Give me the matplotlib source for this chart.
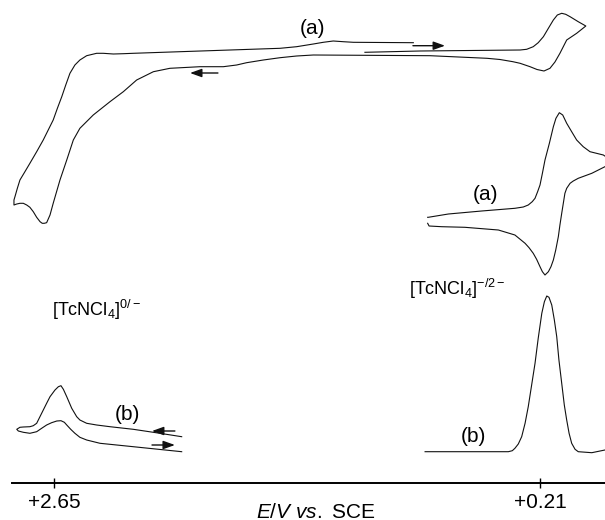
import matplotlib
matplotlib.use("Agg")
import matplotlib.pyplot as plt

plt.rcParams['font.family'] = ['Liberation Sans', 'DejaVu Sans']
plt.rcParams['mathtext.fontset'] = 'custom'
plt.rcParams['mathtext.rm'] = 'Liberation Sans'
plt.rcParams['mathtext.it'] = 'Liberation Sans:italic'
plt.rcParams['mathtext.default'] = 'regular'

# ---------------- data (E in V vs. SCE, current in arbitrary offset units) ----
# Cyclic voltammogram (a), wide scan (top trace)
cv_top_E = [1.089, 0.812, 0.561, 0.310, 0.277, 0.244, 0.219, 0.193, 0.168, 0.143,
            0.123, 0.101, 0.081, 0.059, 0.018, -0.020,
            0.026, 0.076, 0.110, 0.135, 0.160, 0.190, 0.225, 0.260, 0.310, 0.346,
            0.411, 0.476, 0.762, 1.348, 1.432, 1.515, 1.599, 1.683, 1.733, 1.800,
            1.917, 2.068, 2.151, 2.235, 2.302, 2.369, 2.453, 2.520, 2.553, 2.586,
            2.620, 2.654, 2.670, 2.687, 2.699, 2.709, 2.720, 2.737, 2.754, 2.771,
            2.787, 2.804, 2.821, 2.837, 2.851,
            2.851, 2.846, 2.834, 2.821, 2.796, 2.771, 2.737, 2.704, 2.679, 2.654,
            2.633, 2.611, 2.591, 2.570, 2.545, 2.520, 2.486, 2.436, 2.403, 2.352,
            2.302, 2.252, 2.017, 1.766, 1.515, 1.432, 1.348, 1.298, 1.248, 1.198,
            1.147, 0.846]
cv_top_i = [430.7, 432.0, 432.5, 433.0, 433.7, 436.3, 440.3, 446.3, 454.7, 463.0,
            468.0, 469.7, 468.7, 466.3, 461.3, 457.0,
            449.7, 443.0, 429.7, 421.0, 414.7, 412.0, 413.5, 416.3, 419.7, 421.3,
            423.5, 424.7, 427.3, 428.0, 427.0, 425.3, 423.0, 420.3, 418.0, 416.3,
            416.3, 414.7, 411.3, 403.0, 391.3, 381.3, 368.0, 354.7, 343.0, 323.0,
            303.0, 279.7, 268.0, 260.3, 259.7, 259.7, 261.3, 265.7, 271.3, 275.7,
            278.0, 279.7, 279.7, 279.0, 278.0,
            283.0, 286.3, 294.7, 303.0, 311.3, 319.7, 331.3, 343.0, 353.0, 363.0,
            374.7, 386.3, 398.0, 409.7, 418.0, 423.0, 427.3, 429.7, 429.7, 429.0,
            429.3, 429.7, 431.3, 433.0, 434.7, 436.3, 439.0, 440.7, 442.0, 441.3,
            440.7, 440.3]

# Cyclic voltammogram (a), [TcNCl4]-/2- couple (right)
cv_right_E = [0.774, 0.771, 0.670, 0.503, 0.336, 0.294, 0.269, 0.249, 0.235, 0.222,
              0.210, 0.198, 0.185, 0.163, 0.143, 0.130, 0.113, 0.096, 0.076, 0.051,
              0.026, -0.007, -0.041, -0.108, -0.152,
              -0.116, -0.050, 0.018, 0.043, 0.059, 0.076, 0.085, 0.093, 0.101, 0.110,
              0.118, 0.131, 0.143, 0.155, 0.168, 0.185, 0.198, 0.210, 0.227, 0.244,
              0.265, 0.285, 0.336, 0.419, 0.587, 0.704, 0.767, 0.774]
cv_right_i = [265.7, 265.7, 269.0, 272.0, 274.7, 276.0, 278.0, 281.3, 284.7, 291.3,
              298.0, 309.7, 323.0, 339.7, 356.3, 364.7, 370.3, 368.0, 359.7, 351.3,
              343.0, 336.3, 331.3, 328.0, 322.0,
              316.3, 309.7, 304.7, 302.0, 299.7, 294.7, 289.7, 279.7, 269.7, 258.0,
              246.3, 233.0, 223.0, 216.3, 211.3, 208.0, 211.3, 216.3, 223.7, 229.7,
              235.3, 239.7, 248.0, 253.0, 255.7, 256.3, 257.0, 259.7]

# Differential pulse voltammogram (b), [TcNCl4]-/2- (right)
dpv_right_E = [0.787, 0.369, 0.349, 0.336, 0.319, 0.302, 0.285, 0.269, 0.252, 0.235,
               0.219, 0.201, 0.188, 0.176, 0.165, 0.151, 0.138, 0.126, 0.115, 0.101,
               0.088, 0.076, 0.064, 0.051, 0.034, 0.018, -0.050, -0.116]
dpv_right_i = [31.3, 31.3, 32.3, 34.7, 39.0, 46.3, 59.7, 76.3, 98.0, 119.7,
               144.7, 169.7, 181.3, 187.0, 185.7, 178.0, 163.0, 146.3, 123.0, 99.7,
               78.0, 63.0, 49.7, 39.7, 33.7, 31.3, 30.3, 33.0]

# Differential pulse voltammogram (b), [TcNCl4]0/- (left)
dpv_left_E = [2.009, 2.118, 2.252, 2.369, 2.436, 2.486, 2.520, 2.536, 2.561, 2.586,
              2.603, 2.615, 2.628, 2.645, 2.670, 2.687, 2.712, 2.737, 2.754, 2.771,
              2.804, 2.821, 2.837, 2.829, 2.804, 2.771, 2.737, 2.712, 2.687, 2.662,
              2.636, 2.615, 2.598, 2.586, 2.566, 2.545, 2.520, 2.486, 2.419, 2.252,
              2.009]
dpv_left_i = [46.3, 49.7, 53.7, 56.3, 58.0, 59.7, 63.0, 66.3, 74.7, 86.3,
              93.7, 97.3, 96.3, 93.0, 86.3, 79.7, 69.7, 59.7, 57.3, 56.3,
              56.0, 55.7, 53.7, 52.0, 50.7, 49.7, 51.3, 54.7, 58.0, 60.3,
              62.0, 62.3, 60.7, 58.0, 53.7, 49.7, 45.7, 43.0, 39.7, 36.3,
              31.3]

tick_values = [2.65, 0.21]
tick_labels = ['+2.65', '+0.21']

# ---------------- figure ----------------
fig = plt.figure(figsize=(6.05, 5.2), dpi=100)
ax = fig.add_axes([0, 0, 1, 1])
ax.set_xlim(2.9211, -0.1163)
ax.set_ylim(-37, 483)

line_kw = dict(color='#111111', lw=0.8, solid_joinstyle='round')
ax.plot(cv_top_E, cv_top_i, **line_kw)
ax.plot(cv_right_E, cv_right_i, **line_kw)
ax.plot(dpv_right_E, dpv_right_i, **line_kw)
ax.plot(dpv_left_E, dpv_left_i, **line_kw)

# scan direction arrows
arrow_kw = dict(arrowstyle='-|>,head_length=0.5,head_width=0.18', lw=1.0,
                color='#111111', mutation_scale=14, shrinkA=0, shrinkB=0)
ax.annotate('', xy=(0.687, 437.3), xytext=(0.848, 437.3), arrowprops=arrow_kw)
ax.annotate('', xy=(1.967, 410.0), xytext=(1.827, 410.0), arrowprops=arrow_kw)
ax.annotate('', xy=(2.158, 52.0), xytext=(2.043, 52.0), arrowprops=arrow_kw)
ax.annotate('', xy=(2.043, 38.0), xytext=(2.158, 38.0), arrowprops=arrow_kw)

# labels
lab_fs = 15
ax.text(1.350, 454, '(a)', fontsize=lab_fs, ha='center', va='center')
ax.text(0.486, 288, '(a)', fontsize=lab_fs, ha='center', va='center')
ax.text(2.279, 68, '(b)', fontsize=lab_fs, ha='center', va='center')
ax.text(0.545, 46, '(b)', fontsize=lab_fs, ha='center', va='center')
ax.text(2.662, 167.5, r'[TcNCl$_4$]$^{0/-}$', fontsize=13, ha='left', va='baseline')
ax.text(0.868, 188, r'[TcNCl$_4$]$^{-/2-}$', fontsize=13, ha='left', va='baseline')

# potential axis
for s in ['left', 'right', 'top']:
    ax.spines[s].set_visible(False)
ax.spines['bottom'].set_position(('data', 0))
ax.spines['bottom'].set_bounds(2.861, -0.1163)
ax.spines['bottom'].set_linewidth(1.4)
ax.set_xticks(tick_values)
ax.set_xticklabels(tick_labels)
ax.tick_params(axis='x', direction='inout', length=7, width=1, labelsize=15, pad=4)
ax.set_yticks([])
ax.text(1.335, -29, r'$\mathit{E/V\ vs.}$ SCE', fontsize=15, ha='center', va='center')

fig.savefig('out.png', dpi=100)
